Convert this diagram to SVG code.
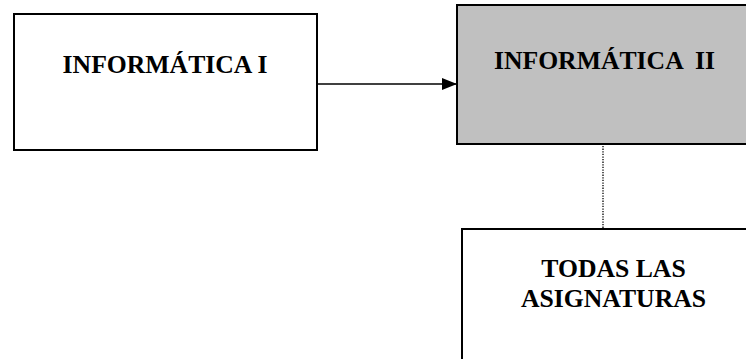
<svg xmlns="http://www.w3.org/2000/svg" width="746" height="359" viewBox="0 0 746 359">
<style>
.box{stroke:#000;stroke-width:2}
.t{font-family:"Liberation Serif","Times New Roman",serif;font-weight:bold;font-size:25.7px;fill:#000;text-anchor:middle}
</style>
<defs>
<marker id="arr" markerUnits="userSpaceOnUse" markerWidth="16" markerHeight="12" refX="15" refY="6" orient="auto">
<path d="M0,0 L15,6 L0,12 Z" fill="#000"/>
</marker>
</defs>
<rect width="746" height="359" fill="#fff"/>
<g id="connectors">
<line x1="317" y1="84" x2="457" y2="84" stroke="#000" stroke-width="1.5" marker-end="url(#arr)"/>
<line x1="603" y1="146" x2="603" y2="228" stroke="#000" stroke-width="1.3" stroke-dasharray="1.3,1.3"/>
</g>
<g id="n1">
<rect class="box" x="14" y="14" width="303" height="136" fill="#fff"/>
<text class="t" x="165" y="73">INFORMÁTICA I</text>
</g>
<g id="n2">
<rect class="box" x="457" y="5" width="300" height="139" fill="#c0c0c0"/>
<text class="t" x="604.5" y="69" xml:space="preserve">INFORMÁTICA  II</text>
</g>
<g id="n3">
<rect class="box" x="462" y="229" width="310" height="140" fill="#fff"/>
<text class="t" x="613.5" y="277">TODAS LAS</text>
<text class="t" x="613.5" y="307">ASIGNATURAS</text>
</g>
</svg>
